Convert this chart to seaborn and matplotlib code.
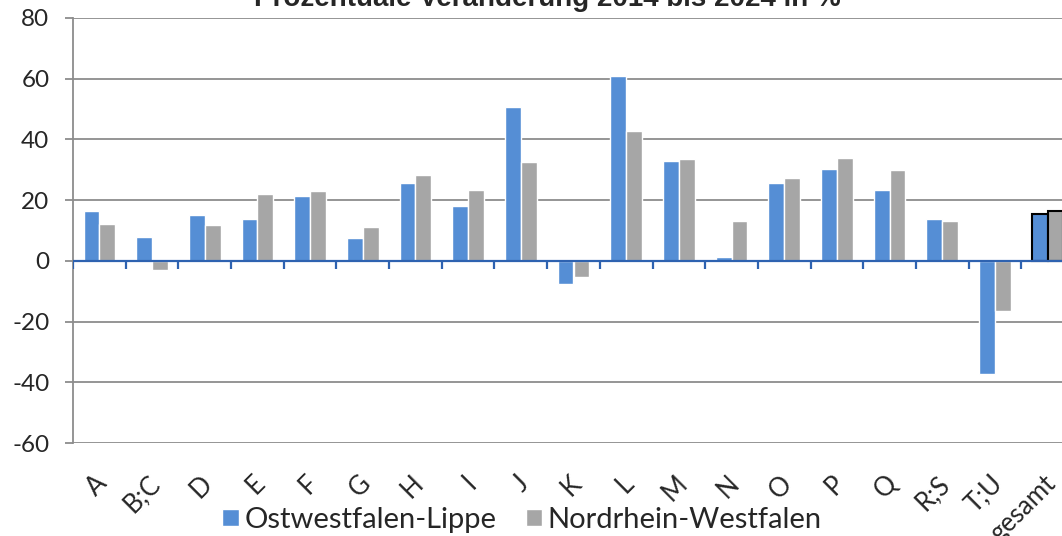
import matplotlib
matplotlib.use("Agg")
import matplotlib.pyplot as plt
import matplotlib.transforms as mtransforms
import seaborn as sns
import pandas as pd

categories = ["A", "B;C", "D", "E", "F", "G", "H", "I", "J", "K", "L", "M",
              "N", "O", "P", "Q", "R;S", "T;U", "gesamt"]
owl = [16.3, 7.8, 15.0, 13.8, 21.5, 7.5, 25.8, 18.2, 50.7, -7.5, 61.0, 33.0,
       1.2, 25.8, 30.2, 23.3, 13.8, -37.3, 15.3]
nrw = [12.0, -3.0, 11.8, 22.0, 23.0, 11.3, 28.3, 23.5, 32.7, -5.3, 42.8, 33.5,
       13.0, 27.3, 33.8, 29.8, 13.2, -16.5, 16.5]
series = ["Ostwestfalen-Lippe", "Nordrhein-Westfalen"]
title = "Prozentuale Veränderung 2014 bis 2024 in %"

df = pd.DataFrame({
    "Kategorie": categories * 2,
    "Wert": owl + nrw,
    "Region": [series[0]] * len(categories) + [series[1]] * len(categories),
})

sns.set_theme(style="white")
plt.rcParams["font.family"] = ["Lato", "DejaVu Sans"]
plt.rcParams["axes.unicode_minus"] = False

fig = plt.figure(figsize=(10.62, 5.36), dpi=100)
ax = fig.add_axes([73 / 1062, 1 - 443 / 536, (1074 - 73) / 1062, 425 / 536])

sns.barplot(data=df, x="Kategorie", y="Wert", hue="Region", order=categories,
            hue_order=series, palette=["#558ED5", "#A6A6A6"], width=0.6,
            gap=0, saturation=1, ax=ax, legend=True)

# black outline for the total bars
n = len(categories)
for i, p in enumerate(ax.patches[:2 * n]):
    if i % n == n - 1:
        p.set_edgecolor("black")
        p.set_linewidth(1.5)

ax.set_xlim(-0.5, n - 0.5)
ax.set_ylim(-60, 80)
ax.set_yticks(range(-60, 81, 20))
ax.yaxis.grid(True, color="#8C8C8C", linewidth=1.3)
ax.set_axisbelow(True)
for s in ["top", "right", "bottom"]:
    ax.spines[s].set_visible(False)
ax.spines["left"].set_color("#8C8C8C")
ax.spines["left"].set_linewidth(1.3)
ax.tick_params(axis="y", left=True, length=6, width=1.3, color="#8C8C8C",
               labelsize=17.5, pad=11)
ax.tick_params(axis="x", bottom=False, labelsize=18.5, pad=2)

# zero line with category separators
ax.axhline(0, color="#2E62B0", linewidth=1.6, zorder=3)
ax.vlines([i - 0.5 for i in range(n)], -2.6, 0, color="#2E62B0",
          linewidth=1.6, zorder=3)

ax.set_xticks(range(n))
ax.set_xticklabels(categories, rotation=45, ha="right", va="top",
                   rotation_mode="anchor")
shift = mtransforms.ScaledTranslation(-5 / 100, -6 / 100, fig.dpi_scale_trans)
for lbl in ax.get_xticklabels():
    lbl.set_y(-0.025)
    lbl.set_transform(lbl.get_transform() + shift)
ax.set_xlabel("")
ax.set_ylabel("")

leg = ax.legend(loc="center", ncol=2, frameon=False, fontsize=21,
                handlelength=0.55, handleheight=0.55, handletextpad=0.2,
                columnspacing=1.0, borderpad=0)
leg.set_bbox_to_anchor((522 / 1062, 1 - 520 / 536), transform=fig.transFigure)

fig.text(547 / 1062, 1.0 - 6 / 536, title, ha="center", va="baseline",
         fontsize=20, fontweight="bold", family=["Liberation Sans", "DejaVu Sans"])

fig.savefig("out.png", dpi=100)
